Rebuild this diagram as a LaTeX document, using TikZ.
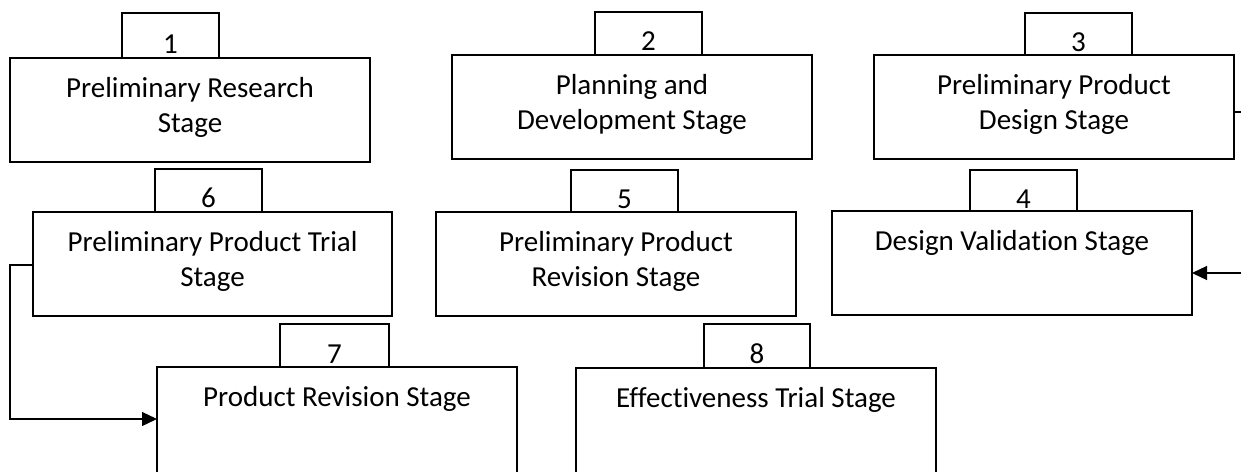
\documentclass[tikz,border=0pt]{standalone}
\usepackage{fontspec}
\setmainfont[Ligatures={NoCommon}]{Carlito}
\usetikzlibrary{arrows.meta,calc}
\begin{document}
\begin{tikzpicture}[x=1pt,y=-1pt,
  stagebox/.style={draw=black,line width=1.3pt,fill=white,rectangle,inner sep=0pt,outer sep=0pt,minimum width=360pt,anchor=north west},
  tabbox/.style={draw=black,line width=2.4pt,fill=white,rectangle,inner sep=0pt,outer sep=0pt,anchor=north west},
  txt/.style={inner sep=0pt,align=center,anchor=north,font={\fontsize{29pt}{35.4pt}\selectfont}},
  num/.style={inner sep=0pt,anchor=base,font={\fontsize{29pt}{35.4pt}\selectfont}},
  conn/.style={draw=black,line width=1.3pt},
  tip/.style={-{Triangle[length=15pt,width=14pt]}}]
\useasboundingbox (0,0) rectangle (1241,471);
\clip (0,0) rectangle (1241,471);
\fill[white] (0,0) rectangle (1241,471);
% tabs (drawn first, boxes cover their lower edge)
\node[tabbox,minimum width=97pt,minimum height=47pt] (tab1) at (122,13) {};
\node[tabbox,minimum width=107pt,minimum height=45pt] (tab2) at (595,12) {};
\node[tabbox,minimum width=107pt,minimum height=44pt] (tab3) at (1025,13) {};
\node[tabbox,minimum width=107pt,minimum height=45pt] (tab6) at (155,169) {};
\node[tabbox,minimum width=107pt,minimum height=44pt] (tab5) at (571,170) {};
\node[tabbox,minimum width=107pt,minimum height=43pt] (tab4) at (970,170) {};
\node[tabbox,minimum width=109pt,minimum height=45pt] (tab7) at (280,324) {};
\node[tabbox,minimum width=106pt,minimum height=46pt] (tab8) at (704,324) {};
% boxes
\node[stagebox,minimum height=104pt] (b1) at (10,58) {};
\node[stagebox,minimum height=104pt] (b2) at (452,55) {};
\node[stagebox,minimum height=104pt] (b3) at (874,55) {};
\node[stagebox,minimum height=104pt,minimum width=359pt] (b6) at (33,212) {};
\node[stagebox,minimum height=104pt] (b5) at (436,212) {};
\node[stagebox,minimum height=104pt] (b4) at (832,211) {};
\node[stagebox,minimum height=110pt] (b7) at (157,367) {};
\node[stagebox,minimum height=110pt] (b8) at (576,368) {};
% numbers
\node[num] (n1) at ($(tab1.north)+(0,40)$) {1};
\node[num] (n2) at ($(tab2.north)+(0,38)$) {2};
\node[num] (n3) at ($(tab3.north)+(0,38)$) {3};
\node[num] (n6) at ($(tab6.north)+(0,38)$) {6};
\node[num] (n5) at ($(tab5.north)+(0,38)$) {5};
\node[num] (n4) at ($(tab4.north)+(0,38)$) {4};
\node[num] (n7) at ($(tab7.north)+(0,39)$) {7};
\node[num] (n8) at ($(tab8.north)+(0,39)$) {8};
% texts
\node[txt] (t1) at ($(b1.north)+(0,12)$) {\rule{0pt}{27pt}Preliminary Research\\Stage};
\node[txt] (t2) at ($(b2.north)+(0,12)$) {\rule{0pt}{27pt}Planning and\\Development Stage};
\node[txt] (t3) at ($(b3.north)+(0,12)$) {\rule{0pt}{27pt}Preliminary Product\\Design Stage};
\node[txt] (t6) at ($(b6.north)+(0,12)$) {\rule{0pt}{27pt}Preliminary Product Trial\\Stage};
\node[txt] (t5) at ($(b5.north)+(0,12)$) {\rule{0pt}{27pt}Preliminary Product\\Revision Stage};
\node[txt] (t4) at ($(b4.north)+(0,12)$) {\rule{0pt}{27pt}Design Validation Stage};
\node[txt] (t7) at ($(b7.north)+(0,12)$) {\rule{0pt}{27pt}Product Revision Stage};
\node[txt] (t8) at ($(b8.north)+(0,12)$) {\rule{0pt}{27pt}Effectiveness Trial Stage};
% connectors
\coordinate (e3) at (1241,112);
\draw[conn] (b3.east |- e3) -- (e3);
\coordinate (e4) at (1241,273);
\draw[conn,tip] (e4) -- (e4 -| b4.east);
\coordinate (c1) at (10,265);
\coordinate (c2) at (10,419);
\draw[conn,tip] (c1 -| b6.west) -- (c1) -- (c2) -- (c2 -| b7.west);
\end{tikzpicture}
\end{document}
